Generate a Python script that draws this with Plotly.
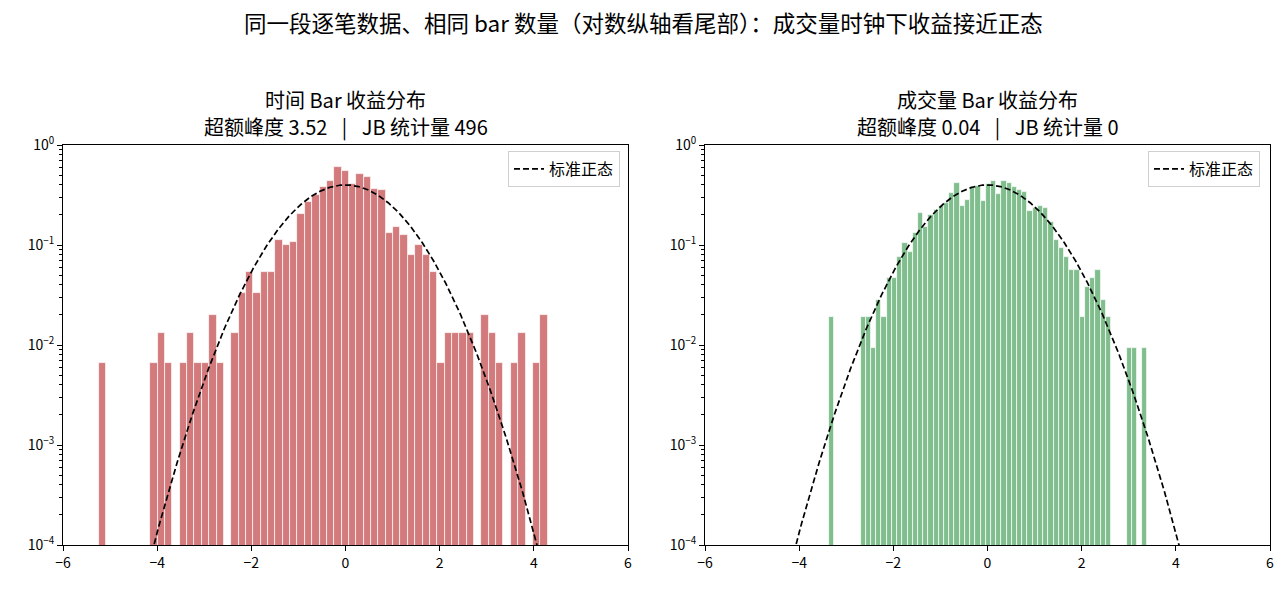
import numpy as np
import plotly.graph_objects as go

# ---------------- data ----------------
# Time-bar returns histogram: 61 equal bins between these edges, counts per bin
time_bin_lo, time_bin_hi = -5.239, 4.293
time_counts = [1, 0, 0, 0, 0, 0, 0, 1, 2, 1, 0, 1, 2, 1, 1, 3, 1, 0, 2, 5,
               8, 5, 8, 8, 17, 15, 16, 31, 41, 48, 57, 66, 90, 83, 61, 78, 72, 55, 53, 20,
               23, 19, 12, 15, 12, 8, 1, 2, 2, 2, 2, 0, 3, 2, 1, 0, 1, 2, 0, 1, 3]

# Volume-bar returns histogram
vol_bin_lo, vol_bin_hi = -3.361, 3.397
vol_counts = [2, 0, 0, 0, 0, 0, 2, 2, 1, 3, 2, 5, 5, 8, 11, 9, 14, 22, 16, 21,
              24, 26, 28, 35, 44, 26, 30, 40, 41, 29, 43, 46, 34, 46, 44, 40, 38, 36, 23, 25,
              26, 25, 18, 12, 10, 8, 6, 6, 2, 4, 5, 6, 3, 2, 0, 0, 0, 1, 1, 0, 1]

x_ticks = [-6, -4, -2, 0, 2, 4, 6]
x_tick_text = ["−6", "−4", "−2", "0", "2", "4", "6"]
y_ticks = [1e-4, 1e-3, 1e-2, 1e-1, 1]
y_tick_text = ["10<sup>−4</sup>", "10<sup>−3</sup>", "10<sup>−2</sup>", "10<sup>−1</sup>", "10<sup>0</sup>"]
y_minor = [k * 10.0 ** e for e in range(-4, 0) for k in range(2, 10)]

SEP = " \u2002|\u2002 "
suptitle = "同一段逐笔数据、相同 bar 数量（对数纵轴看尾部）：成交量时钟下收益接近正态"
left_title = ["时间 Bar 收益分布", "超额峰度 3.52" + SEP + "JB 统计量 496"]
right_title = ["成交量 Bar 收益分布", "超额峰度 0.04" + SEP + "JB 统计量 0"]
legend_label = "标准正态"

FONT = "Noto Sans CJK SC, Noto Sans, DejaVu Sans, sans-serif"
W, H = 1287, 589


def hist_density(lo, hi, counts):
    counts = np.asarray(counts, float)
    n = len(counts)
    w = (hi - lo) / n
    centers = lo + w * (np.arange(n) + 0.5)
    dens = counts / (counts.sum() * w)
    mask = counts > 0
    return centers[mask], dens[mask], w


fig = go.Figure()

xn = np.linspace(-5, 5, 801)
pdf = np.exp(-xn ** 2 / 2) / np.sqrt(2 * np.pi)

panels = [
    (time_bin_lo, time_bin_hi, time_counts, "rgba(196,78,82,0.75)", "x", "y", "legend"),
    (vol_bin_lo, vol_bin_hi, vol_counts, "rgba(85,168,104,0.75)", "x2", "y2", "legend2"),
]
for lo, hi, cnt, col, xa, ya, lg in panels:
    c, d, w = hist_density(lo, hi, cnt)
    fig.add_trace(go.Bar(x=c, y=d, width=w, marker=dict(color=col, line=dict(color="rgba(255,255,255,0.9)", width=0.8)),
                         xaxis=xa, yaxis=ya, showlegend=False, hoverinfo="skip"))
    fig.add_trace(go.Scatter(x=xn, y=pdf, mode="lines", line=dict(color="black", width=1.7, dash="6px,3px"),
                             name=legend_label, xaxis=xa, yaxis=ya, legend=lg, cliponaxis=True))

ydom = [(H - 545) / H, (H - 145) / H]
axis_common = dict(showline=True, linecolor="black", linewidth=1, mirror=True, ticks="outside",
                   ticklen=5, tickwidth=1, tickcolor="black", showgrid=False, zeroline=False, automargin=False,
                   tickfont=dict(family=FONT, size=14, color="black"))
minor = dict(ticks="outside", ticklen=3, tickcolor="black", tickwidth=0.8, showgrid=False,
             tickmode="array", tickvals=y_minor)

legend_common = dict(xanchor="right", yanchor="top", bgcolor="rgba(255,255,255,0.8)",
                     bordercolor="#d0d0d0", borderwidth=1, font=dict(family=FONT, size=16, color="black"),
                     itemwidth=30, tracegroupgap=0)

annotations = [
    dict(text=suptitle, x=0.5, y=(H - 22) / H, xref="paper", yref="paper", showarrow=False,
         font=dict(family=FONT, size=22.5, color="black"), xanchor="center", yanchor="middle"),
]
for titles, xc in [(left_title, (63 + 628) / 2 / W), (right_title, (705 + 1270) / 2 / W)]:
    for line, yc in zip(titles, [99, 126]):
        annotations.append(dict(text=line, x=xc, y=(H - yc) / H, xref="paper", yref="paper", showarrow=False,
                                font=dict(family=FONT, size=20, color="black"), xanchor="center", yanchor="middle"))

fig.update_layout(
    width=W, height=H, margin=dict(l=0, r=0, t=0, b=0),
    plot_bgcolor="white", paper_bgcolor="white", bargap=0,
    font=dict(family=FONT, color="black"),
    xaxis=dict(domain=[63 / W, 628 / W], range=[-6, 6], tickvals=x_ticks, ticktext=x_tick_text, anchor="y", **axis_common),
    xaxis2=dict(domain=[705 / W, 1270 / W], range=[-6, 6], tickvals=x_ticks, ticktext=x_tick_text, anchor="y2", **axis_common),
    yaxis=dict(domain=ydom, type="log", range=[-4, 0], tickvals=y_ticks, ticktext=y_tick_text, anchor="x",
               minor=minor, **axis_common),
    yaxis2=dict(domain=ydom, type="log", range=[-4, 0], tickvals=y_ticks, ticktext=y_tick_text, anchor="x2",
                minor=minor, **axis_common),
    legend=dict(x=620 / W, y=(H - 151) / H, **legend_common),
    legend2=dict(x=1260 / W, y=(H - 151) / H, **legend_common),
    annotations=annotations,
)

fig.write_html("out.html")
